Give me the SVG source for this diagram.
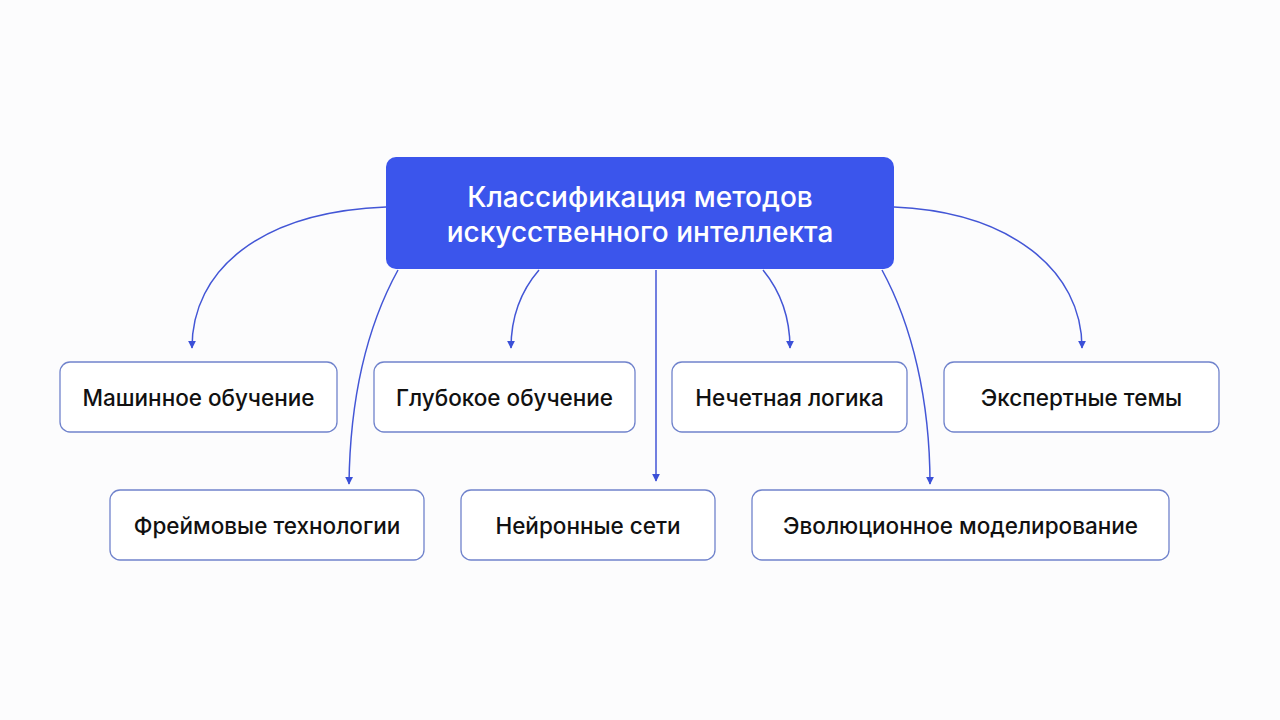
<svg xmlns="http://www.w3.org/2000/svg" width="1280" height="720" viewBox="0 0 1280 720">
<style>
.node rect{fill:#ffffff;stroke:#7083cc;stroke-width:1.3}
.node text{font-family:Inter,"Noto Sans",sans-serif;font-size:22.5px;font-weight:500;fill:#111111;text-anchor:middle;dominant-baseline:central}
.main rect{fill:#3b55ec}
.main text{font-family:Inter,"Noto Sans",sans-serif;font-size:28px;font-weight:500;fill:#ffffff;text-anchor:middle}
.conn path{fill:none;stroke:#4356d6;stroke-width:1.5}
</style>
<defs>
<marker id="arr" viewBox="0 0 10 10" refX="9" refY="5" markerWidth="8" markerHeight="8" markerUnits="userSpaceOnUse" orient="auto">
<path d="M0,0 L10,5 L0,10 Z" fill="#3b50d8"/>
</marker>
</defs>
<rect width="1280" height="720" fill="#fcfcfd"/>
<g id="connectors" class="conn">
<path d="M386,207 C260,212 192,270 192,348" marker-end="url(#arr)"/>
<path d="M398,270 C365,330 350,400 349,484" marker-end="url(#arr)"/>
<path d="M539,270 C520,292 511,318 511,348" marker-end="url(#arr)"/>
<path d="M656,270 L656,481" marker-end="url(#arr)"/>
<path d="M763,270 C781,292 790,318 790,348" marker-end="url(#arr)"/>
<path d="M882,270 C912,325 930,400 930,484" marker-end="url(#arr)"/>
<path d="M894,207 C1010,212 1082,270 1082,348" marker-end="url(#arr)"/>
</g>
<g id="root" class="main">
<rect x="386" y="157" width="508" height="112" rx="10"/>
<text x="640" y="207">Классификация методов</text>
<text x="640" y="242">искусственного интеллекта</text>
</g>
<g id="n1" class="node"><rect x="60" y="362" width="277" height="70" rx="10"/><text x="198.5" y="397">Машинное обучение</text></g>
<g id="n2" class="node"><rect x="374" y="362" width="261" height="70" rx="10"/><text x="504.5" y="397">Глубокое обучение</text></g>
<g id="n3" class="node"><rect x="672" y="362" width="235" height="70" rx="10"/><text x="789.5" y="397">Нечетная логика</text></g>
<g id="n4" class="node"><rect x="944" y="362" width="275" height="70" rx="10"/><text x="1081.5" y="397">Экспертные темы</text></g>
<g id="n5" class="node"><rect x="110" y="490" width="314" height="70" rx="10"/><text x="267" y="525">Фреймовые технологии</text></g>
<g id="n6" class="node"><rect x="461" y="490" width="254" height="70" rx="10"/><text x="588" y="525">Нейронные сети</text></g>
<g id="n7" class="node"><rect x="752" y="490" width="417" height="70" rx="10"/><text x="960.5" y="525">Эволюционное моделирование</text></g>
</svg>
